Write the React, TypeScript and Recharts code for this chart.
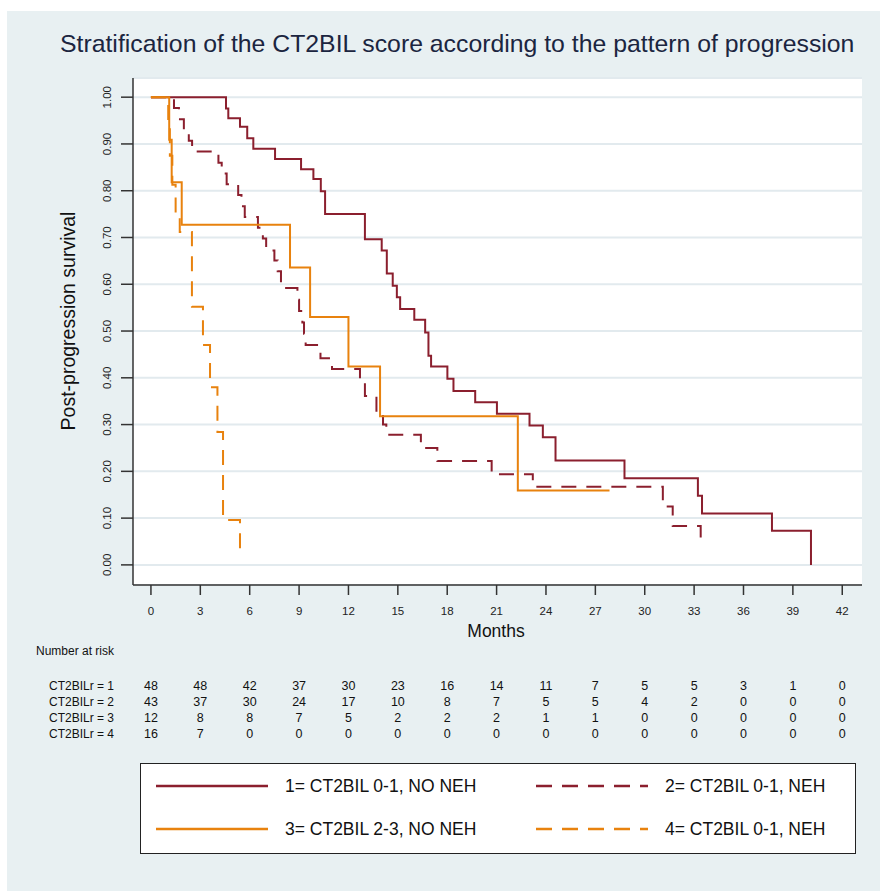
import { LineChart, Line, XAxis, YAxis, CartesianGrid } from "recharts";

const FONT = '"Liberation Sans", Arial, sans-serif';
const RED = "#8b1f2e";
const ORANGE = "#e8820e";

const monthTicks = [0, 3, 6, 9, 12, 15, 18, 21, 24, 27, 30, 33, 36, 39, 42];
const survTicks = [0, 0.1, 0.2, 0.3, 0.4, 0.5, 0.6, 0.7, 0.8, 0.9, 1];

// 1 = CT2BIL 0-1, NO NEH
const g1Time = [0, 4.56, 4.7, 5.41, 5.85, 6.22, 7.54, 9.12, 9.87, 10.32, 10.58, 13.0, 14.02, 14.33, 14.69, 14.94, 15.14, 16.0, 16.66, 16.86, 17.02, 18.01, 18.38, 19.7, 21.02, 23.0, 23.81, 24.58, 28.77, 33.23, 33.48, 37.73, 40.1];
const g1Surv = [1, 0.976, 0.955, 0.937, 0.912, 0.89, 0.868, 0.846, 0.825, 0.799, 0.75, 0.696, 0.672, 0.623, 0.597, 0.572, 0.547, 0.524, 0.497, 0.447, 0.424, 0.398, 0.372, 0.348, 0.323, 0.298, 0.273, 0.223, 0.185, 0.148, 0.11, 0.073, 0];

// 2 = CT2BIL 0-1, NEH
const g2Time = [0, 1.4, 1.7, 2.0, 2.3, 2.5, 4.1, 4.3, 4.6, 5.3, 5.5, 5.7, 6.5, 6.8, 7.0, 7.5, 7.7, 7.9, 8.9, 9.0, 9.2, 9.3, 9.4, 10.3, 11.0, 12.7, 13.0, 13.7, 14.1, 14.3, 16.4, 17.4, 20.7, 23.2, 31.1, 31.7, 33.4];
const g2Surv = [1, 0.977, 0.953, 0.93, 0.907, 0.884, 0.86, 0.837, 0.814, 0.791, 0.767, 0.744, 0.721, 0.698, 0.672, 0.651, 0.628, 0.592, 0.567, 0.543, 0.518, 0.494, 0.47, 0.442, 0.419, 0.395, 0.361, 0.325, 0.3, 0.278, 0.25, 0.222, 0.194, 0.167, 0.125, 0.083, 0.042];

// 3 = CT2BIL 2-3, NO NEH
const g3Time = [0, 1.11, 1.26, 1.87, 8.45, 9.67, 12.0, 13.92, 22.29, 27.86];
const g3Surv = [1, 0.909, 0.818, 0.727, 0.636, 0.53, 0.424, 0.318, 0.159, 0.159];

// 4 = CT2BIL 0-1, NEH
const g4Time = [0, 1.05, 1.15, 1.3, 1.5, 1.75, 2.49, 3.16, 3.59, 4.04, 4.38, 5.41];
const g4Surv = [1, 0.938, 0.875, 0.813, 0.75, 0.712, 0.552, 0.47, 0.38, 0.284, 0.096, 0.015];

const riskLabels = ["CT2BILr = 1", "CT2BILr = 2", "CT2BILr = 3", "CT2BILr = 4"];
const risk1 = [48, 48, 42, 37, 30, 23, 16, 14, 11, 7, 5, 5, 3, 1, 0];
const risk2 = [43, 37, 30, 24, 17, 10, 8, 7, 5, 5, 4, 2, 0, 0, 0];
const risk3 = [12, 8, 8, 7, 5, 2, 2, 2, 1, 1, 0, 0, 0, 0, 0];
const risk4 = [16, 7, 0, 0, 0, 0, 0, 0, 0, 0, 0, 0, 0, 0, 0];

const legendLabels = ["1= CT2BIL 0-1, NO NEH", "2= CT2BIL 0-1, NEH", "3= CT2BIL 2-3, NO NEH", "4= CT2BIL 0-1, NEH"];

const toPoints = (t: number[], s: number[]) => t.map((x, i) => ({ t: x, s: s[i] }));

// plot box in page pixels
const PLOT_L = 133;
const PLOT_R = 862;
const X_MIN = -1.09;
const X_MAX = 43.2;
const xPx = (m: number) => PLOT_L + ((m - X_MIN) / (X_MAX - X_MIN)) * (PLOT_R - PLOT_L);

const YTick = (props: any) => {
  const { x, y, payload } = props;
  const bx = x - 8;
  return (
    <text x={bx} y={y} transform={`rotate(-90 ${bx} ${y})`} textAnchor="middle" fontSize={11.5} fill="#222" fontFamily={FONT}>
      {Number(payload.value).toFixed(2)}
    </text>
  );
};

function LegendSample({ color, dashed }: { color: string; dashed: boolean }) {
  return (
    <svg width={112} height={6} style={{ display: "block" }}>
      <line x1={0} y1={3} x2={112} y2={3} stroke={color} strokeWidth={2.5} strokeDasharray={dashed ? "16 10" : undefined} />
    </svg>
  );
}

export default function App() {
  const series = [
    { key: "g1", data: toPoints(g1Time, g1Surv), color: RED, dash: undefined },
    { key: "g2", data: toPoints(g2Time, g2Surv), color: RED, dash: "15 10" },
    { key: "g3", data: toPoints(g3Time, g3Surv), color: ORANGE, dash: undefined },
    { key: "g4", data: toPoints(g4Time, g4Surv), color: ORANGE, dash: "15 10" },
  ];
  const riskRows = [risk1, risk2, risk3, risk4];

  return (
    <div style={{ position: "absolute", left: 0, top: 0, width: 880, height: 891, background: "#fff", fontFamily: FONT }}>
      <div style={{ position: "absolute", left: 7, top: 11, width: 873, height: 880, background: "#e8f0f2" }} />

      <div style={{ position: "absolute", left: 60, top: 30, fontSize: 24.8, color: "#1b2540", whiteSpace: "nowrap" }}>
        Stratification of the CT2BIL score according to the pattern of progression
      </div>

      <div style={{ position: "absolute", left: 0, top: 0 }}>
        <LineChart width={880} height={891} margin={{ top: 78, right: 18, bottom: 276, left: 73 }}>
          <CartesianGrid vertical={false} horizontal stroke="#e2eaee" strokeWidth={2} fill="#ffffff" />
          <XAxis
            type="number"
            dataKey="t"
            domain={[X_MIN, X_MAX]}
            ticks={monthTicks}
            allowDataOverflow
            height={30}
            tickSize={10}
            tickMargin={12}
            axisLine={{ stroke: "#333", strokeWidth: 1.5 }}
            tickLine={{ stroke: "#333", strokeWidth: 1.5 }}
            tick={{ fontSize: 11.5, fill: "#222", fontFamily: FONT }}
          />
          <YAxis
            type="number"
            dataKey="s"
            domain={[-0.043, 1.041]}
            ticks={survTicks}
            allowDataOverflow
            width={60}
            tickSize={12}
            axisLine={{ stroke: "#333", strokeWidth: 1.5 }}
            tickLine={{ stroke: "#333", strokeWidth: 1.5 }}
            tick={<YTick />}
          />
          {series.map((s) => (
            <Line
              key={s.key}
              data={s.data}
              dataKey="s"
              type="stepAfter"
              stroke={s.color}
              strokeWidth={2}
              strokeDasharray={s.dash}
              dot={false}
              activeDot={false}
              isAnimationActive={false}
            />
          ))}
        </LineChart>
      </div>

      <div
        style={{
          position: "absolute",
          left: 68,
          top: 321,
          transform: "translate(-50%, -50%) rotate(-90deg)",
          fontSize: 19.5,
          color: "#111",
          whiteSpace: "nowrap",
        }}
      >
        Post-progression survival
      </div>

      <div style={{ position: "absolute", left: 496, top: 631, transform: "translate(-50%, -50%)", fontSize: 17.5, color: "#111" }}>
        Months
      </div>

      <div style={{ position: "absolute", left: 36, top: 644, fontSize: 12, color: "#111" }}>Number at risk</div>

      {riskRows.map((row, r) => (
        <div key={r}>
          <div style={{ position: "absolute", left: 49, top: 679 + r * 16, fontSize: 12, color: "#111", whiteSpace: "nowrap" }}>
            {riskLabels[r]}
          </div>
          {row.map((v, i) => (
            <div
              key={i}
              style={{
                position: "absolute",
                left: xPx(monthTicks[i]),
                top: 679 + r * 16,
                transform: "translateX(-50%)",
                fontSize: 12.5,
                color: "#111",
              }}
            >
              {v}
            </div>
          ))}
        </div>
      ))}

      <div
        style={{
          position: "absolute",
          left: 140,
          top: 763,
          width: 716,
          height: 91,
          background: "#fff",
          border: "1px solid #222",
          boxSizing: "border-box",
        }}
      >
        {legendLabels.map((lab, i) => {
          const col = i % 2;
          const row = Math.floor(i / 2);
          const color = i < 2 ? RED : ORANGE;
          return (
            <div
              key={i}
              style={{
                position: "absolute",
                left: col === 0 ? 15 : 395,
                top: row === 0 ? 10 : 53,
                display: "flex",
                alignItems: "center",
                height: 24,
              }}
            >
              <LegendSample color={color} dashed={col === 1} />
              <span style={{ marginLeft: 17, fontSize: 17.5, color: "#111", whiteSpace: "nowrap" }}>{lab}</span>
            </div>
          );
        })}
      </div>
    </div>
  );
}
